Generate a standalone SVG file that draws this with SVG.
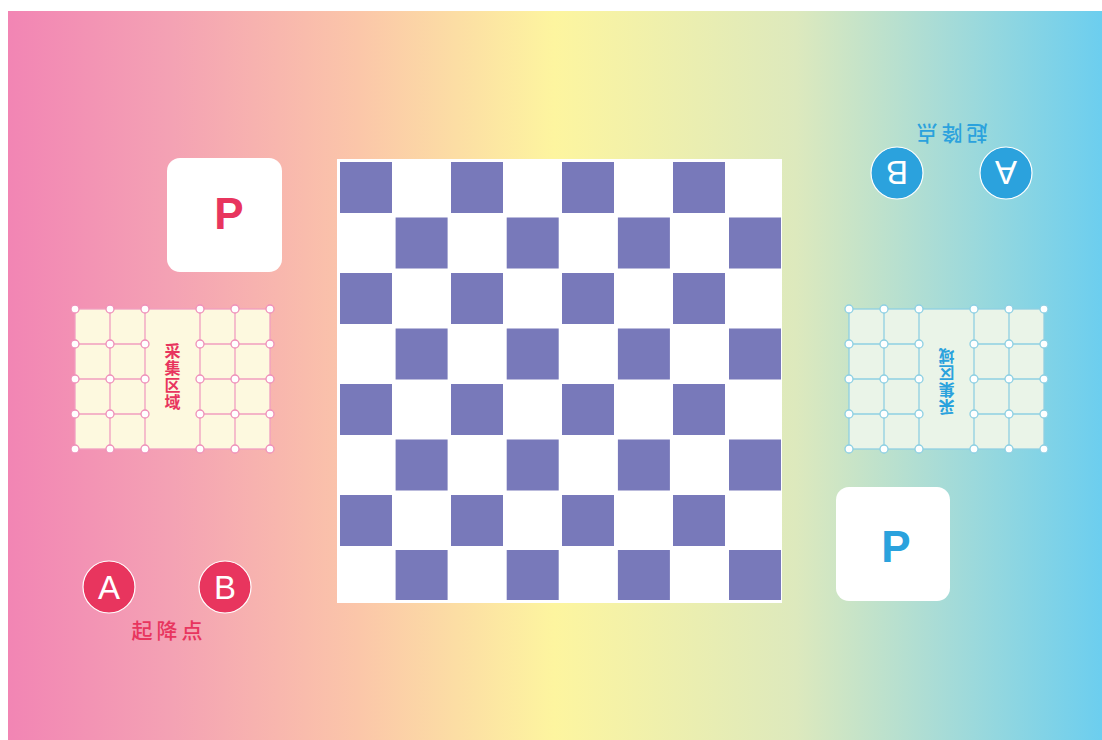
<svg xmlns="http://www.w3.org/2000/svg" width="1102" height="740" viewBox="0 0 1102 740">
<defs>
<linearGradient id="bg" x1="8" y1="0" x2="1102" y2="0" gradientUnits="userSpaceOnUse">
<stop offset="0" stop-color="#f285b4"/>
<stop offset="0.15" stop-color="#f4a2b4"/>
<stop offset="0.32" stop-color="#fbc6a9"/>
<stop offset="0.5" stop-color="#fdf59f"/>
<stop offset="0.72" stop-color="#dde9bd"/>
<stop offset="0.85" stop-color="#a9dcd6"/>
<stop offset="1" stop-color="#6cceef"/>
</linearGradient>
<style>
.sq{fill:#7879ba}
.pbox{fill:#ffffff}
.ptxt{font-family:"Liberation Sans",Arial,sans-serif;font-weight:bold;font-size:44px;text-anchor:middle}
.ab{font-family:"Liberation Sans",Arial,sans-serif;font-size:33px;fill:#ffffff;text-anchor:middle}
.vt{font-family:"Noto Sans CJK SC","Noto Sans",sans-serif;font-weight:bold;font-size:16px;letter-spacing:1px;writing-mode:vertical-rl;text-anchor:middle}
.lp{font-family:"Noto Sans CJK SC","Noto Sans",sans-serif;font-weight:500;font-size:21px;letter-spacing:4px;text-anchor:middle}
.gl{stroke-width:1.3;fill:none}
.red{fill:#e8355e}
.blue{fill:#2ba2dd}
</style>
</defs>
<rect x="8" y="11" width="1094" height="729" fill="url(#bg)"/>

<g id="board">
<rect x="337" y="159" width="445" height="444" fill="#ffffff"/>
<g class="sq">
<rect x="340" y="162" width="52" height="51"/><rect x="451" y="162" width="52" height="51"/><rect x="562" y="162" width="52" height="51"/><rect x="673" y="162" width="52" height="51"/>
<rect x="395.6" y="217.5" width="52" height="51"/><rect x="506.7" y="217.5" width="52" height="51"/><rect x="617.9" y="217.5" width="52" height="51"/><rect x="729" y="217.5" width="52" height="51"/>
<rect x="340" y="273" width="52" height="51"/><rect x="451" y="273" width="52" height="51"/><rect x="562" y="273" width="52" height="51"/><rect x="673" y="273" width="52" height="51"/>
<rect x="395.6" y="328.5" width="52" height="51"/><rect x="506.7" y="328.5" width="52" height="51"/><rect x="617.9" y="328.5" width="52" height="51"/><rect x="729" y="328.5" width="52" height="51"/>
<rect x="340" y="384" width="52" height="51"/><rect x="451" y="384" width="52" height="51"/><rect x="562" y="384" width="52" height="51"/><rect x="673" y="384" width="52" height="51"/>
<rect x="395.6" y="439.5" width="52" height="51"/><rect x="506.7" y="439.5" width="52" height="51"/><rect x="617.9" y="439.5" width="52" height="51"/><rect x="729" y="439.5" width="52" height="51"/>
<rect x="340" y="495" width="52" height="51"/><rect x="451" y="495" width="52" height="51"/><rect x="562" y="495" width="52" height="51"/><rect x="673" y="495" width="52" height="51"/>
<rect x="395.6" y="550" width="52" height="50"/><rect x="506.7" y="550" width="52" height="50"/><rect x="617.9" y="550" width="52" height="50"/><rect x="729" y="550" width="52" height="50"/>
</g>
</g>

<g id="p-left">
<rect class="pbox" x="167" y="158" width="115" height="114" rx="13"/>
<text class="ptxt red" x="229" y="229">P</text>
</g>

<g id="p-right">
<rect class="pbox" x="836" y="487" width="114" height="114" rx="13"/>
<text class="ptxt blue" x="896" y="562">P</text>
</g>

<g id="area-left">
<rect x="75" y="309" width="195" height="140" fill="#fdf9df" stroke="#f19ec0" stroke-width="1.3"/>
<g class="gl" stroke="#f19ec0">
<path d="M110 309V449M145 309V449M200 309V449M235 309V449"/>
<path d="M75 344H145M75 379H145M75 414H145M200 344H270M200 379H270M200 414H270"/>
</g>
<g fill="#ffffff" stroke="#ef8fb8" stroke-width="1.3">
<circle cx="75" cy="309" r="4"/><circle cx="110" cy="309" r="4"/><circle cx="145" cy="309" r="4"/><circle cx="200" cy="309" r="4"/><circle cx="235" cy="309" r="4"/><circle cx="270" cy="309" r="4"/>
<circle cx="75" cy="344" r="4"/><circle cx="110" cy="344" r="4"/><circle cx="145" cy="344" r="4"/><circle cx="200" cy="344" r="4"/><circle cx="235" cy="344" r="4"/><circle cx="270" cy="344" r="4"/>
<circle cx="75" cy="379" r="4"/><circle cx="110" cy="379" r="4"/><circle cx="145" cy="379" r="4"/><circle cx="200" cy="379" r="4"/><circle cx="235" cy="379" r="4"/><circle cx="270" cy="379" r="4"/>
<circle cx="75" cy="414" r="4"/><circle cx="110" cy="414" r="4"/><circle cx="145" cy="414" r="4"/><circle cx="200" cy="414" r="4"/><circle cx="235" cy="414" r="4"/><circle cx="270" cy="414" r="4"/>
<circle cx="75" cy="449" r="4"/><circle cx="110" cy="449" r="4"/><circle cx="145" cy="449" r="4"/><circle cx="200" cy="449" r="4"/><circle cx="235" cy="449" r="4"/><circle cx="270" cy="449" r="4"/>
</g>
<text class="vt red" x="172.5" y="377">采集区域</text>
</g>

<g id="area-right" transform="rotate(180 946.5 379)">
<rect x="849" y="309" width="195" height="140" fill="#eaf4e8" stroke="#8fd0e2" stroke-width="1.3"/>
<g class="gl" stroke="#8fd0e2">
<path d="M884 309V449M919 309V449M974 309V449M1009 309V449"/>
<path d="M849 344H919M849 379H919M849 414H919M974 344H1044M974 379H1044M974 414H1044"/>
</g>
<g fill="#ffffff" stroke="#8ccfe3" stroke-width="1.3">
<circle cx="849" cy="309" r="4"/><circle cx="884" cy="309" r="4"/><circle cx="919" cy="309" r="4"/><circle cx="974" cy="309" r="4"/><circle cx="1009" cy="309" r="4"/><circle cx="1044" cy="309" r="4"/>
<circle cx="849" cy="344" r="4"/><circle cx="884" cy="344" r="4"/><circle cx="919" cy="344" r="4"/><circle cx="974" cy="344" r="4"/><circle cx="1009" cy="344" r="4"/><circle cx="1044" cy="344" r="4"/>
<circle cx="849" cy="379" r="4"/><circle cx="884" cy="379" r="4"/><circle cx="919" cy="379" r="4"/><circle cx="974" cy="379" r="4"/><circle cx="1009" cy="379" r="4"/><circle cx="1044" cy="379" r="4"/>
<circle cx="849" cy="414" r="4"/><circle cx="884" cy="414" r="4"/><circle cx="919" cy="414" r="4"/><circle cx="974" cy="414" r="4"/><circle cx="1009" cy="414" r="4"/><circle cx="1044" cy="414" r="4"/>
<circle cx="849" cy="449" r="4"/><circle cx="884" cy="449" r="4"/><circle cx="919" cy="449" r="4"/><circle cx="974" cy="449" r="4"/><circle cx="1009" cy="449" r="4"/><circle cx="1044" cy="449" r="4"/>
</g>
<text class="vt blue" x="946.5" y="377">采集区域</text>
</g>

<g id="landing-left">
<circle cx="109" cy="587" r="26" fill="#e8355e" stroke="#ffffff" stroke-width="1.2"/>
<text class="ab" x="109" y="599">A</text>
<circle cx="225" cy="587" r="26" fill="#e8355e" stroke="#ffffff" stroke-width="1.2"/>
<text class="ab" x="225" y="599">B</text>
<text class="lp red" x="169" y="638">起降点</text>
</g>

<g id="landing-right">
<g transform="rotate(180 1006 173)">
<circle cx="1006" cy="173" r="26" fill="#2ba2dd" stroke="#ffffff" stroke-width="1.2"/>
<text class="ab" x="1006" y="185">A</text>
</g>
<g transform="rotate(180 897 173)">
<circle cx="897" cy="173" r="26" fill="#2ba2dd" stroke="#ffffff" stroke-width="1.2"/>
<text class="ab" x="897" y="185">B</text>
</g>
<g transform="rotate(180 952 134)">
<text class="lp blue" x="954" y="142">起降点</text>
</g>
</g>
</svg>
